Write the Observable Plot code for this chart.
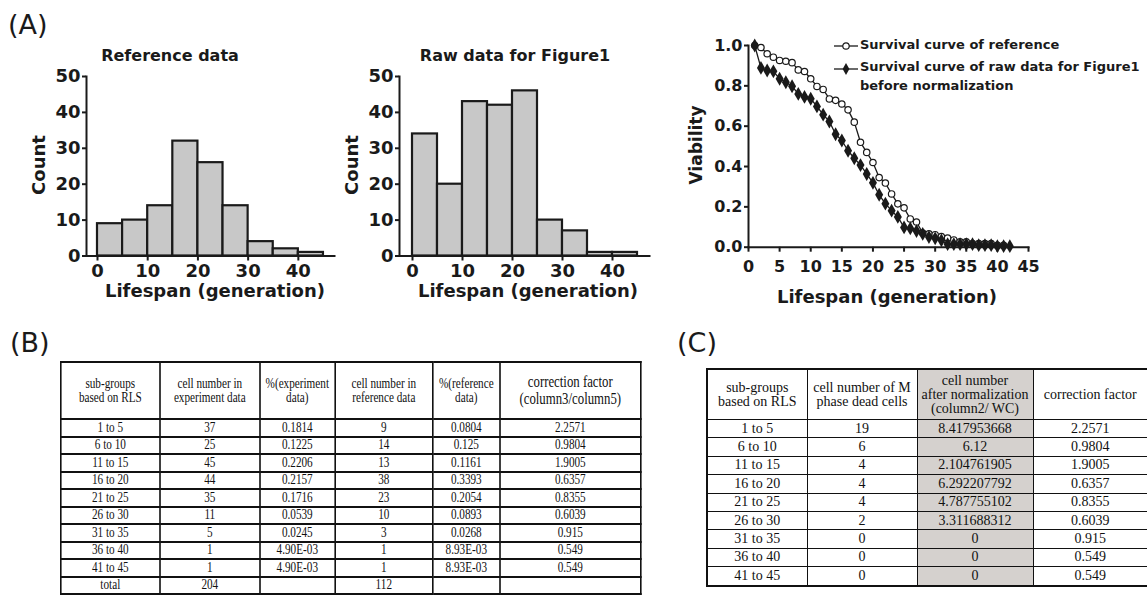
<!DOCTYPE html>
<html>
<head>
<meta charset="utf-8">
<script src="https://cdn.jsdelivr.net/npm/d3@7"></script>
<script src="https://cdn.jsdelivr.net/npm/@observablehq/plot@0.6"></script>
<style>
  html, body { margin:0; padding:0; background:#fff; }
  body { width:1147px; height:597px; overflow:hidden; position:relative; }
  .abs { position:absolute; }
  .lbl { position:absolute; white-space:nowrap; line-height:1; color:#1a1a1a; font-family:"DejaVu Sans", sans-serif; font-weight:bold; }
  .panel { position:absolute; white-space:nowrap; line-height:1; color:#1a1a1a; font-family:"DejaVu Sans", sans-serif; font-size:27px; }
  .tb { position:absolute; left:60px; top:361px; transform:scaleX(0.8); transform-origin:0 0; }
  .tb table { width:725px; border-collapse:collapse; table-layout:fixed; font-family:"Liberation Serif", serif; font-size:14px; color:#111; border:2.8px solid #111; }
  .tb td { border:2px solid #111; text-align:center; vertical-align:middle; padding:0; line-height:1; white-space:nowrap; overflow:hidden; }
  .tb tr.h td { height:55px; line-height:13.5px; }
  .tb tr.h td.big { font-size:16px; line-height:16.7px; }
  .tb tr.d td { height:15.5px; }
  .tc { position:absolute; left:706px; top:368px; }
  .tc table { width:441px; border-collapse:collapse; table-layout:fixed; font-family:"Liberation Serif", serif; font-size:14px; color:#111; border:2px solid #111; }
  .tc td { border:1.5px solid #111; text-align:center; vertical-align:middle; padding:0; line-height:1; white-space:nowrap; overflow:hidden; }
  .tc tr.h td { height:49px; line-height:14px; }
  .tc tr.d td { height:17.4px; }
  .tc td.g { background:#d5d1ce; }
</style>
</head>
<body>
<script>
// ---------- data ----------
const binStart = [0, 5, 10, 15, 20, 25, 30, 35, 40];
const binEnd   = [5, 10, 15, 20, 25, 30, 35, 40, 45];
const refCounts = [9, 10, 14, 32, 26, 14, 4, 2, 1];
const rawCounts = [34, 20, 43, 42, 46, 10, 7, 1, 1];
const histYTicks = [0, 10, 20, 30, 40, 50];
const histXTicks = [0, 10, 20, 30, 40];

const refGen = [1,2,3,4,5,6,7,8,9,10,11,12,13,14,15,16,17,18,19,20,21,22,23,24,25,26,27,28,29,30,31,32,33,34,35,36,37,38,39,40,41];
const refViability = [1.0,0.99,0.959,0.942,0.926,0.922,0.915,0.879,0.871,0.835,0.797,0.782,0.735,0.728,0.71,0.681,0.62,0.52,0.47,0.42,0.345,0.318,0.264,0.215,0.195,0.14,0.125,0.07,0.066,0.062,0.053,0.045,0.036,0.027,0.027,0.018,0.018,0.018,0.018,0.009,0.009];
const rawGen = [1,2,3,4,5,6,7,8,9,10,11,12,13,14,15,16,17,18,19,20,21,22,23,24,25,26,27,28,29,30,31,32,33,34,35,36,37,38,39,40,41,42];
const rawViability = [1.0,0.889,0.876,0.872,0.835,0.818,0.798,0.76,0.745,0.736,0.698,0.657,0.623,0.56,0.529,0.478,0.441,0.407,0.363,0.319,0.26,0.216,0.181,0.15,0.098,0.093,0.08,0.066,0.05,0.044,0.034,0.015,0.015,0.015,0.015,0.015,0.01,0.01,0.01,0.005,0.005,0.005];
const survYTicks = [0, 0.2, 0.4, 0.6, 0.8, 1.0];
const survXTicks = [0, 5, 10, 15, 20, 25, 30, 35, 40, 45];

const groups = ["1 to 5","6 to 10","11 to 15","16 to 20","21 to 25","26 to 30","31 to 35","36 to 40","41 to 45"];
const headB = ["sub-groups\nbased on RLS","cell number in\nexperiment data","%(experiment\ndata)","cell number in\nreference data","%(reference\ndata)","correction factor\n(column3/column5)"];
const expCount = [37,25,45,44,35,11,5,1,1];
const expTotal = 204;
const expPct = ["0.1814","0.1225","0.2206","0.2157","0.1716","0.0539","0.0245","4.90E-03","4.90E-03"];
const refCount = [9,14,13,38,23,10,3,1,1];
const refTotal = 112;
const refPct = ["0.0804","0.125","0.1161","0.3393","0.2054","0.0893","0.0268","8.93E-03","8.93E-03"];
const corrFactor = ["2.2571","0.9804","1.9005","0.6357","0.8355","0.6039","0.915","0.549","0.549"];

const headC = ["sub-groups\nbased on RLS","cell number of M\nphase dead cells","cell number\nafter normalization\n(column2/ WC)","correction factor"];
const mPhaseDead = [19,6,4,4,4,2,0,0,0];
const normalized = ["8.417953668","6.12","2.104761905","6.292207792","4.787755102","3.311688312","0","0","0"];

// ---------- helpers ----------
const INK = "#1a1a1a";
function place(el, left, top) {
  const d = document.createElement("div");
  d.className = "abs"; d.style.left = left + "px"; d.style.top = top + "px";
  d.appendChild(el); document.body.appendChild(d); return d;
}
function label(text, cx, cy, size, rot) {
  const d = document.createElement("div");
  d.className = "lbl"; d.textContent = text; d.style.fontSize = size + "px";
  d.style.left = cx + "px"; d.style.top = cy + "px";
  d.style.transform = "translate(-50%,-50%)" + (rot ? " rotate(-90deg)" : "");
  document.body.appendChild(d);
}
function panel(text, left, top) {
  const d = document.createElement("div");
  d.className = "panel"; d.textContent = text;
  d.style.left = left + "px"; d.style.top = top + "px";
  document.body.appendChild(d);
}
const axisStyle = (fs) => ({ fontFamily: "DejaVu Sans, sans-serif", fontWeight: "bold", fontSize: fs + "px", color: INK, background: "transparent", overflow: "visible" });

function hist(counts, xdom, mr) {
  const data = binStart.map((s, i) => ({ x1: s, x2: binEnd[i], count: counts[i] }));
  return Plot.plot({
    width: 345, height: 280, marginLeft: 86, marginRight: mr, marginTop: 36, marginBottom: 64.5,
    x: { domain: xdom }, y: { domain: [0, 50] },
    style: axisStyle(18),
    marks: [
      Plot.rectY(data, { x1: "x1", x2: "x2", y: "count", fill: "#c8c8c8", stroke: INK, strokeWidth: 2.2 }),
      Plot.axisY({ ticks: histYTicks, tickSize: 4, tickPadding: 2, strokeWidth: 2, label: null }),
      Plot.axisX({ ticks: histXTicks, tickSize: 5, tickPadding: 3, strokeWidth: 2, label: null }),
      Plot.frame({ anchor: "left", stroke: INK, strokeWidth: 2 }),
      Plot.frame({ anchor: "bottom", stroke: INK, strokeWidth: 2 })
    ]
  });
}

// ---------- panel A ----------
panel("(A)", 8, 11);
place(hist(refCounts, [-2.19, 47.2], 11), 0, 40);
place(hist(rawCounts, [-2.6, 47.4], 9), 313, 40);
label("Reference data", 170, 55.5, 16);
label("Raw data for Figure1", 515, 55.5, 16);
label("Count", 39, 165, 18, true);
label("Count", 352, 165, 18, true);
label("Lifespan (generation)", 215, 291, 18);
label("Lifespan (generation)", 528, 291, 18);

const refData = refGen.map((g, i) => ({ gen: g, v: refViability[i] }));
const rawData = rawGen.map((g, i) => ({ gen: g, v: rawViability[i] }));
const surv = Plot.plot({
  width: 487, height: 300, marginLeft: 88, marginRight: 119, marginTop: 25, marginBottom: 73.3,
  x: { domain: [0, 45] }, y: { domain: [0, 1] },
  style: axisStyle(16),
  marks: [
    Plot.line(refData, { x: "gen", y: "v", stroke: INK, strokeWidth: 1.3 }),
    Plot.dot(refData, { x: "gen", y: "v", r: 3.2, fill: "white", stroke: INK, strokeWidth: 1.2 }),
    Plot.line(rawData, { x: "gen", y: "v", stroke: INK, strokeWidth: 1.3 }),
    Plot.dot(rawData, { x: "gen", y: "v", symbol: "diamond", r: 4.2, fill: INK, stroke: "none" }),
    Plot.axisY({ ticks: survYTicks, tickFormat: d3.format(".1f"), tickSize: 4, tickPadding: 2, strokeWidth: 2, label: null }),
    Plot.axisX({ ticks: survXTicks, tickSize: 5, tickPadding: 8, strokeWidth: 2, label: null }),
    Plot.frame({ anchor: "left", stroke: INK, strokeWidth: 2 }),
    Plot.frame({ anchor: "bottom", stroke: INK, strokeWidth: 2 })
  ]
});
place(surv, 660, 20);
label("Viability", 695.5, 145, 17, true);
label("Lifespan (generation)", 887, 297, 18);

// legend
function swatch(kind) {
  const ns = "http://www.w3.org/2000/svg";
  const s = document.createElementNS(ns, "svg");
  s.setAttribute("width", 26); s.setAttribute("height", 12);
  const ln = document.createElementNS(ns, "line");
  ln.setAttribute("x1", 0); ln.setAttribute("x2", 24); ln.setAttribute("y1", 6); ln.setAttribute("y2", 6);
  ln.setAttribute("stroke", INK); ln.setAttribute("stroke-width", 1.3);
  s.appendChild(ln);
  if (kind === "circle") {
    const c = document.createElementNS(ns, "circle");
    c.setAttribute("cx", 12); c.setAttribute("cy", 6); c.setAttribute("r", 3.2);
    c.setAttribute("fill", "white"); c.setAttribute("stroke", INK); c.setAttribute("stroke-width", 1.2);
    s.appendChild(c);
  } else {
    const p = document.createElementNS(ns, "path");
    p.setAttribute("d", d3.symbol(d3.symbolDiamond, 40)());
    p.setAttribute("transform", "translate(12,6)");
    p.setAttribute("fill", INK);
    s.appendChild(p);
  }
  return s;
}
place(swatch("circle"), 834, 38);
place(swatch("diamond"), 834, 60.7);
function legText(lines, left, top) {
  const d = document.createElement("div");
  d.className = "lbl"; d.style.fontSize = "13px"; d.style.lineHeight = "19px";
  d.style.left = left + "px"; d.style.top = top + "px";
  d.innerHTML = lines.join("<br>");
  document.body.appendChild(d);
}
legText(["Survival curve of reference"], 860, 34.5);
legText(["Survival curve of raw data for Figure1", "before normalization"], 860, 57.2);

// ---------- panel B ----------
panel("(B)", 10, 328.7);
(function () {
  const w = document.createElement("div"); w.className = "tb";
  let h = '<table><colgroup>' + [123.75,125,93.75,122.5,83.75,176.25].map(x => `<col style="width:${x}px">`).join("") + '</colgroup>';
  h += '<tr class="h">' + headB.map((t, i) => `<td${i === 5 ? ' class="big"' : ''}>${t.replace(/\n/g, "<br>")}</td>`).join("") + '</tr>';
  groups.forEach((g, i) => {
    h += `<tr class="d"><td>${g}</td><td>${expCount[i]}</td><td>${expPct[i]}</td><td>${refCount[i]}</td><td>${refPct[i]}</td><td>${corrFactor[i]}</td></tr>`;
  });
  h += `<tr class="d"><td>total</td><td>${expTotal}</td><td></td><td>${refTotal}</td><td></td><td></td></tr>`;
  h += '</table>';
  w.innerHTML = h; document.body.appendChild(w);
})();

// ---------- panel C ----------
panel("(C)", 677, 329);
(function () {
  const w = document.createElement("div"); w.className = "tc";
  let h = '<table><colgroup>' + [100,110,116,115].map(x => `<col style="width:${x}px">`).join("") + '</colgroup>';
  h += '<tr class="h">' + headC.map((t, i) => `<td${i === 2 ? ' class="g"' : ''}>${t.replace(/\n/g, "<br>")}</td>`).join("") + '</tr>';
  groups.forEach((g, i) => {
    h += `<tr class="d"><td>${g}</td><td>${mPhaseDead[i]}</td><td class="g">${normalized[i]}</td><td>${corrFactor[i]}</td></tr>`;
  });
  h += '</table>';
  w.innerHTML = h; document.body.appendChild(w);
})();
</script>
</body>
</html>
